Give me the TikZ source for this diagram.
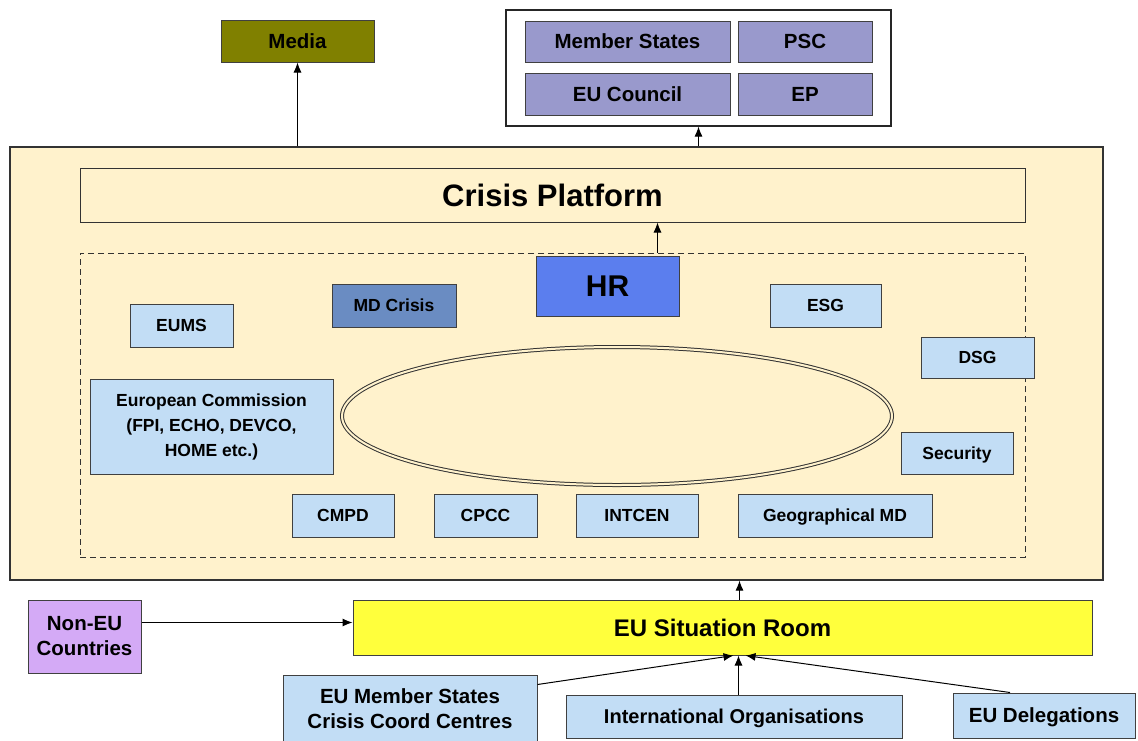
\documentclass[tikz,border=0pt]{standalone}
\usepackage{fontspec}
\setmainfont{Liberation Sans}
\usetikzlibrary{arrows.meta,shapes.geometric}
\definecolor{panelcream}{HTML}{FFF2CC}
\definecolor{paleblue}{HTML}{C2DDF5}
\definecolor{steelblue}{HTML}{6A8CC2}
\definecolor{hrblue}{HTML}{5B7EEE}
\definecolor{councilpurple}{HTML}{9999CC}
\definecolor{mediaolive}{HTML}{808000}
\definecolor{roomyellow}{HTML}{FFFF3C}
\definecolor{lilac}{HTML}{D4AAF6}
\begin{document}
\begin{tikzpicture}[x=1pt,y=-1pt,
		every node/.style={inner sep=0pt, align=center},
		box/.style={draw=black!75, line width=1pt, fill=paleblue,
			font=\fontsize{17.5}{25}\selectfont\bfseries},
		oneline/.style={text depth=0pt},
		topbox/.style={box, oneline, fill=councilpurple, font=\fontsize{20.5}{25}\selectfont\bfseries},
		outbox/.style={box, font=\fontsize{20.5}{25}\selectfont\bfseries}]
	\tikzstyle{arr}=[black, line width=1pt, -{Latex[length=10pt,width=8pt]}];
	\useasboundingbox (0,0) rectangle (1138,740);
	\clip (0,0) rectangle (1138,740);
	\fill[white] (0,0) rectangle (1138,740);
	\node[draw=black!80, line width=1.2pt, fill=panelcream, minimum width=1093, minimum height=433] (panel) at (556.5,363.5) {};
	\node[draw=black!80, line width=1pt, fill=panelcream, minimum width=945, minimum height=54, oneline,
		font=\fontsize{31}{36}\selectfont\bfseries] (platform) at (552.5,195) {Crisis Platform};
	\node[draw=black!80, line width=1pt, dash pattern=on 6pt off 4pt, minimum width=945, minimum height=304] (inner) at (552.5,405) {};
	\node[draw=black!80, line width=1pt, double=panelcream, double distance=2pt, ellipse,
		minimum width=550, minimum height=138] (ring) at (617,416) {};
	\node[topbox, fill=mediaolive, minimum width=153, minimum height=42] (media) at (297.5,41) {Media};
	\node[draw=black!85, line width=1.2pt, fill=white, minimum width=385, minimum height=116] (council) at (698.5,68) {};
	\node[topbox, minimum width=205, minimum height=41] (mstates) at (627.5,41.5) {Member States};
	\node[topbox, minimum width=134, minimum height=41] (psc) at (805,41.5) {PSC};
	\node[topbox, minimum width=205, minimum height=42] (eucouncil) at (627.5,94) {EU Council};
	\node[topbox, minimum width=134, minimum height=42] (ep) at (805,94) {EP};
	\node[box, oneline, fill=hrblue, minimum width=143, minimum height=60,
		font=\fontsize{30}{34}\selectfont\bfseries] (hr) at (607.5,286) {HR};
	\node[box, oneline, fill=steelblue, minimum width=124, minimum height=43] (mdcrisis) at (394,305.5) {MD Crisis};
	\node[box, oneline, minimum width=103, minimum height=43] (eums) at (181.5,325.5) {EUMS};
	\node[box, minimum width=243, minimum height=95] (ec) at (211.5,426.5) {European Commission\\(FPI, ECHO, DEVCO,\\HOME etc.)};
	\node[box, oneline, minimum width=111, minimum height=43] (esg) at (825.5,305.5) {ESG};
	\node[box, oneline, minimum width=113, minimum height=41] (dsg) at (977.5,357.5) {DSG};
	\node[box, oneline, minimum width=112, minimum height=42] (security) at (957,453) {Security};
	\node[box, oneline, minimum width=102, minimum height=43] (cmpd) at (343,515.5) {CMPD};
	\node[box, oneline, minimum width=103, minimum height=43] (cpcc) at (485.5,515.5) {CPCC};
	\node[box, oneline, minimum width=122, minimum height=43] (intcen) at (637,515.5) {INTCEN};
	\node[box, oneline, minimum width=194, minimum height=43] (geomd) at (835,515.5) {Geographical MD};
	\node[box, oneline, fill=roomyellow, minimum width=739, minimum height=55,
		font=\fontsize{24}{28}\selectfont\bfseries] (sitroom) at (722.5,627.5) {EU Situation Room};
	\node[outbox, fill=lilac, minimum width=113, minimum height=73] (noneu) at (84.5,636.5) {Non-EU\\Countries};
	\node[outbox, minimum width=254, minimum height=67] (emscc) at (410,708.5) {EU Member States\\Crisis Coord Centres};
	\node[outbox, oneline, font=\fontsize{20}{25}\selectfont\bfseries, minimum width=336, minimum height=43] (intorg) at (734,716.5) {International Organisations};
	\node[outbox, oneline, minimum width=182, minimum height=45] (eudel) at (1044,715.5) {EU Delegations};
	\coordinate (hub) at ([xshift=16]sitroom.south);
	\draw[arr] (media.south |- panel.north) -- (media.south);
	\draw[arr] (council.south |- panel.north) -- (council.south);
	\draw[arr] ([xshift=50]hr.north |- inner.north) -- ([xshift=50]hr.north |- platform.south);
	\draw[arr] ([xshift=17]sitroom.north) -- ([xshift=17]sitroom.north |- panel.south);
	\draw[arr] ([yshift=14]noneu.east) -- ([yshift=14]noneu.east -| sitroom.west);
	\draw[arr] ([yshift=-10]emscc.north east) -- ([xshift=-5]hub);
	\draw[arr] (intorg.north -| hub) -- (hub);
	\draw[arr] ([xshift=-34]eudel.north) -- ([xshift=7]hub);
\end{tikzpicture}
\end{document}
